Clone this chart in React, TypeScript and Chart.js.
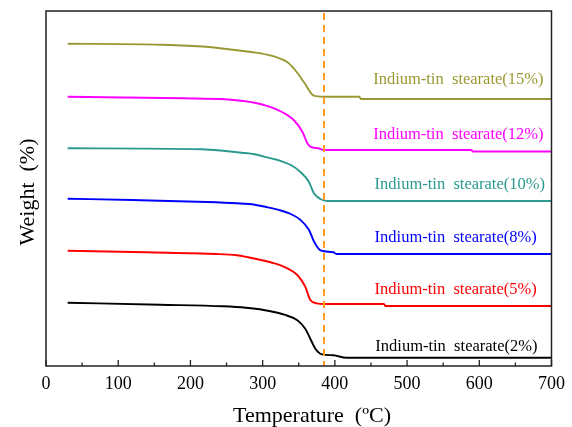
import React, { useEffect, useRef } from "react";
import { Chart, registerables } from "chart.js";

Chart.register(...registerables);

// Temperature (ºC) and offset weight curves (arbitrary stacked units)
const temps15 = [30, 159, 222, 250, 270, 284, 297, 317, 334, 345, 358, 371, 385, 434, 436, 700];
const weight15 = [322.3, 321.3, 319.3, 317, 315.3, 314, 312.7, 309.3, 304, 296, 283, 270.3, 269.3, 269.2, 267, 267];

const temps12 = [30, 189, 248, 273, 289, 302, 316, 330, 343, 355, 362, 366, 377, 385, 589, 591, 700];
const weight12 = [269.3, 267.7, 266.7, 265, 263.3, 261, 257.7, 252.7, 246, 234.3, 222.7, 219.3, 217.7, 216, 216, 214.5, 214.5];

const temps10 = [30, 216, 248, 271, 289, 302, 321, 339, 352, 364, 371, 380, 389, 700];
const weight10 = [217.7, 216.7, 215, 213.3, 211.7, 209.3, 206, 201, 194.3, 184.3, 172.7, 167, 165, 165];

const temps8 = [30, 120, 223, 264, 289, 305, 321, 339, 352, 364, 371, 380, 398, 402, 700];
const weight8 = [167.3, 166, 164, 162.7, 161.3, 159, 156.3, 152, 146.3, 136.3, 124.7, 115.7, 113.7, 112, 112];

const temps5 = [30, 139, 236, 264, 280, 298, 316, 334, 348, 359, 366, 375, 385, 468, 470, 700];
const weight5 = [115.3, 113.7, 112, 110.7, 108.7, 106, 102.7, 97.7, 91, 79.3, 66, 62.7, 62, 62, 60, 60];

const temps2 = [30, 158, 246, 277, 296, 311, 330, 348, 359, 366, 373, 382, 398, 416, 700];
const weight2 = [63.3, 61.3, 59.7, 58.3, 56.7, 54.7, 51.3, 45.7, 37.3, 27.3, 17.3, 11.7, 10.7, 8.3, 8.3];

const seriesNames = [
  "Indium-tin  stearate(15%)",
  "Indium-tin  stearate(12%)",
  "Indium-tin  stearate(10%)",
  "Indium-tin  stearate(8%)",
  "Indium-tin  stearate(5%)",
  "Indium-tin  stearate(2%)",
];
const seriesColors = ["#999933", "#ff00ff", "#2a9a8e", "#0000ff", "#ff0000", "#000000"];
const labelX = [453, 453, 455, 455, 455, 456];
const labelY = [286, 231, 181, 128.7, 76.7, 19.3];

const xTicks = [0, 100, 200, 300, 400, 500, 600, 700];
const markerTemp = 385;

const allTemps = [temps15, temps12, temps10, temps8, temps5, temps2];
const allWeights = [weight15, weight12, weight10, weight8, weight5, weight2];

const SERIF = "'Liberation Serif', 'Times New Roman', serif";

const overlayPlugin = {
  id: "overlay",
  afterDatasetsDraw(chart: any) {
    const { ctx, chartArea, scales } = chart;
    const xs = scales.x;
    const ys = scales.y;
    ctx.save();
    // dashed marker line
    const mx = xs.getPixelForValue(markerTemp);
    ctx.strokeStyle = "#ff9a1f";
    ctx.lineWidth = 2;
    ctx.setLineDash([7, 5]);
    ctx.beginPath();
    ctx.moveTo(mx, chartArea.top + 2);
    ctx.lineTo(mx, chartArea.bottom);
    ctx.stroke();
    ctx.setLineDash([]);

    // series labels
    ctx.font = `16.5px ${SERIF}`;
    ctx.textAlign = "left";
    ctx.textBaseline = "middle";
    seriesNames.forEach((n, i) => {
      ctx.fillStyle = seriesColors[i];
      ctx.fillText(n, xs.getPixelForValue(labelX[i]), ys.getPixelForValue(labelY[i]));
    });

    // frame
    ctx.strokeStyle = "#222";
    ctx.lineWidth = 1.5;
    ctx.strokeRect(chartArea.left, chartArea.top, chartArea.right - chartArea.left, chartArea.bottom - chartArea.top);

    // ticks (inward)
    ctx.lineWidth = 1.3;
    for (let v = 0; v <= 700; v += 50) {
      const px = xs.getPixelForValue(v);
      const len = v % 100 === 0 ? 6 : 3.5;
      ctx.beginPath();
      ctx.moveTo(px, chartArea.bottom);
      ctx.lineTo(px, chartArea.bottom - len);
      ctx.stroke();
    }

    // axis titles
    ctx.fillStyle = "#000";
    ctx.font = `22px ${SERIF}`;
    ctx.textAlign = "center";
    ctx.textBaseline = "alphabetic";
    ctx.fillText("Temperature  (ºC)", 312, 422);
    ctx.save();
    ctx.translate(34, 192);
    ctx.rotate(-Math.PI / 2);
    ctx.fillText("Weight  (%)", 0, 0);
    ctx.restore();
    ctx.restore();
  },
};

export default function App() {
  const ref = useRef<HTMLCanvasElement | null>(null);
  useEffect(() => {
    document.body.style.margin = "0";
    const canvas = ref.current;
    if (!canvas) return;
    const datasets = allTemps.map((t, i) => ({
      label: seriesNames[i],
      data: t.map((x, j) => ({ x, y: allWeights[i][j] })),
      borderColor: seriesColors[i],
      backgroundColor: seriesColors[i],
      borderWidth: 1.9,
      pointRadius: 0,
      cubicInterpolationMode: "monotone" as const,
      fill: false,
    }));
    const chart = new Chart(canvas, {
      type: "line",
      data: { datasets },
      options: {
        animation: false,
        responsive: false,
        maintainAspectRatio: false,
        layout: { padding: { left: 46, top: 11, right: 17, bottom: 0 } },
        plugins: { legend: { display: false }, tooltip: { enabled: false } },
        scales: {
          x: {
            type: "linear",
            min: 0,
            max: 700,
            afterBuildTicks: (scale: any) => {
              scale.ticks = xTicks.map((v) => ({ value: v }));
            },
            afterFit: (scale: any) => {
              scale.height = 61;
            },
            grid: { display: false, drawTicks: false },
            border: { display: false },
            ticks: {
              color: "#000",
              padding: 7,
              maxRotation: 0,
              font: { family: SERIF, size: 18 },
            },
          },
          y: {
            type: "linear",
            min: 0,
            max: 355,
            display: false,
          },
        },
      },
      plugins: [overlayPlugin],
    });
    return () => chart.destroy();
  }, []);
  return (
    <div style={{ position: "fixed", left: 0, top: 0, width: 572, height: 427, background: "#fff" }}>
      <canvas ref={ref} width={572} height={427} style={{ width: 572, height: 427 }} />
    </div>
  );
}
